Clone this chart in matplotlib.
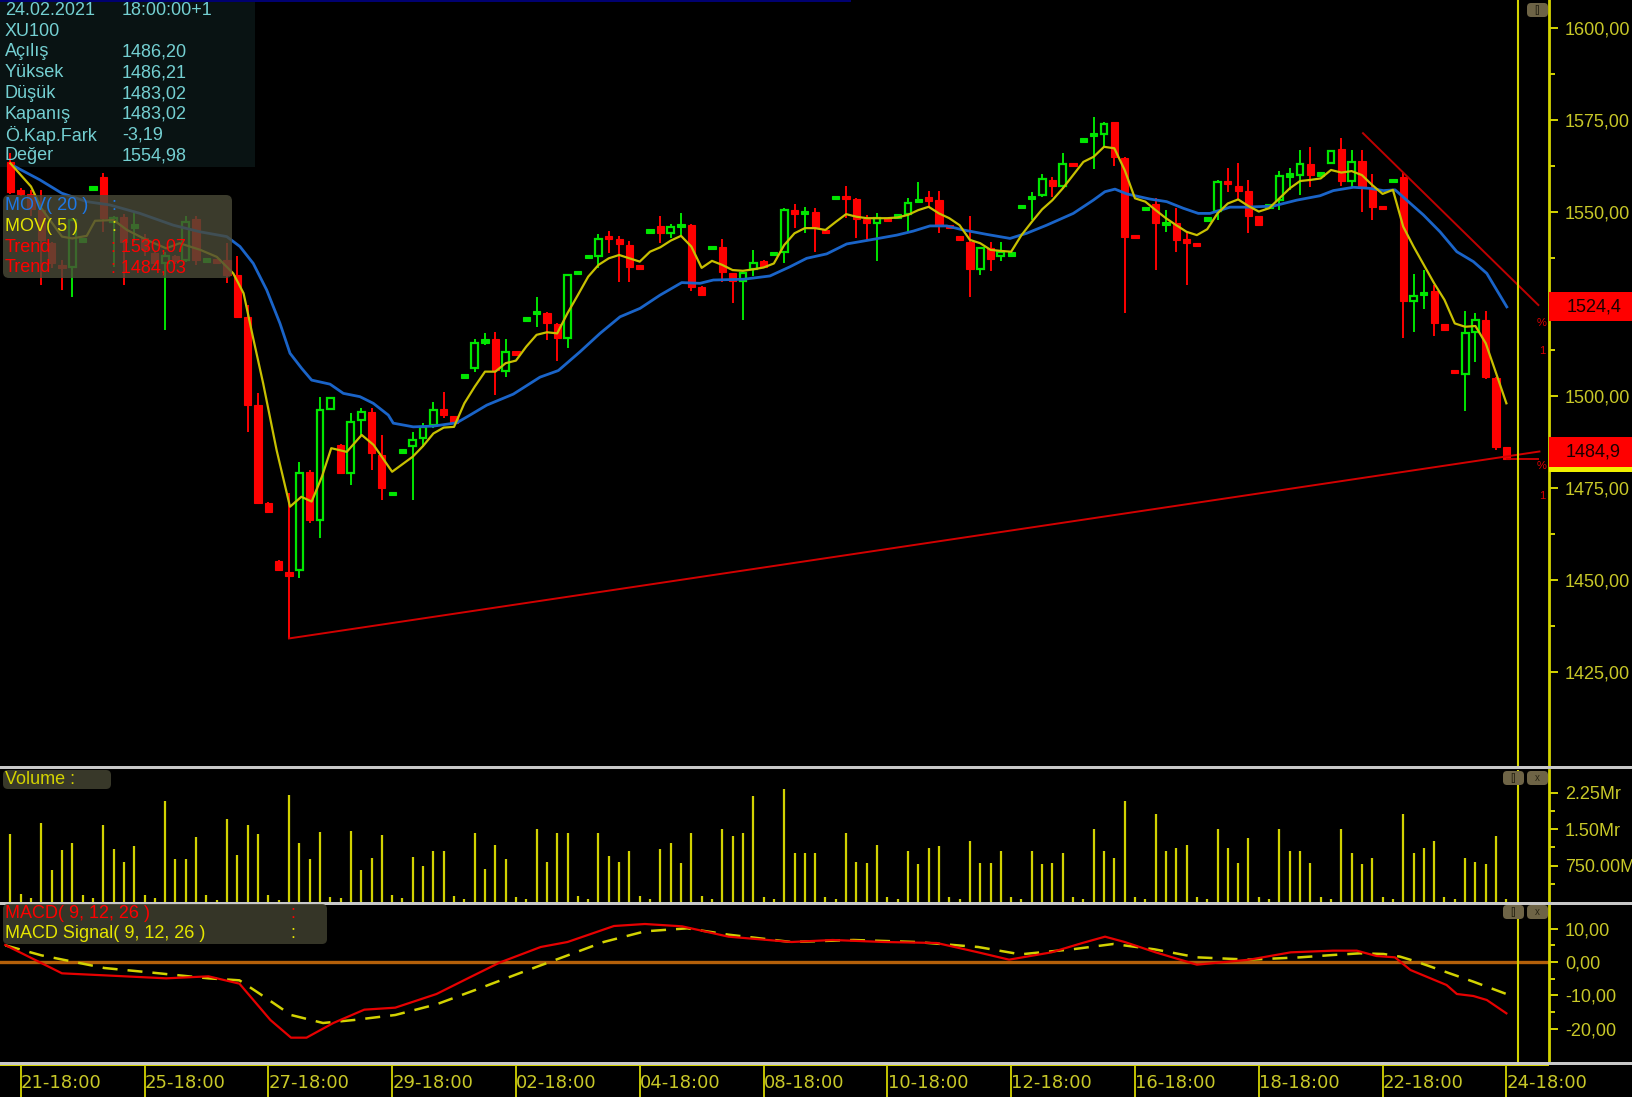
import matplotlib
matplotlib.use("Agg")
import matplotlib.pyplot as plt
import matplotlib.transforms as mtransforms
from matplotlib.patches import Rectangle, FancyBboxPatch

plt.rcParams['font.family'] = ['Liberation Sans', 'DejaVu Sans']

W, H = 1632, 1097

# XU100 hourly bars (index 0 = first bar on screen)
opens = [1563.7, 1556.0, 1555.0, 1550.6, 1541.7, 1535.5, 1535.2, 1542.3, 1556.4, 1559.7,
         1547.5, 1548.8, 1546.0, 1543.0, 1539.0, 1536.2, 1538.0, 1537.0, 1548.2, 1536.8,
         1537.0, 1537.0, 1533.0, 1521.6, 1497.6, 1471.1, 1455.3, 1452.3, 1452.8, 1479.5,
         1466.4, 1496.5, 1486.8, 1479.1, 1493.6, 1495.8, 1484.0, 1473.5, 1485.0, 1486.5,
         1488.6, 1492.2, 1496.5, 1494.6, 1505.3, 1507.6, 1514.6, 1515.5, 1506.9, 1511.9,
         1520.8, 1522.6, 1522.6, 1519.6, 1515.8, 1533.4, 1537.8, 1538.2, 1543.2, 1542.7,
         1541.1, 1535.3, 1544.8, 1546.4, 1544.3, 1546.2, 1546.6, 1529.8, 1540.3, 1540.7,
         1533.4, 1531.4, 1534.5, 1536.8, 1538.7, 1539.3, 1550.6, 1549.7, 1550.2, 1545.0,
         1553.8, 1554.5, 1553.5, 1548.1, 1547.2, 1548.2, 1548.8, 1549.5, 1552.8, 1553.8,
         1553.3, 1546.2, 1543.2, 1542.0, 1534.5, 1540.4, 1538.0, 1538.5, 1551.3, 1553.6,
         1554.7, 1558.8, 1557.2, 1563.2, 1569.5, 1571.0, 1571.2, 1574.5, 1564.8, 1543.6,
         1550.8, 1552.3, 1546.8, 1547.0, 1542.8, 1541.4, 1548.0, 1550.4, 1558.3, 1557.1,
         1555.9, 1549.0, 1551.6, 1553.3, 1560.0, 1560.1, 1563.0, 1560.3, 1563.3, 1567.2,
         1558.5, 1563.9, 1556.7, 1551.4, 1558.4, 1559.5, 1525.9, 1527.8, 1528.6, 1519.6,
         1506.8, 1506.0, 1517.6, 1520.7, 1505.1, 1486.2]
highs = [1566.0, 1556.5, 1556.0, 1556.0, 1542.0, 1537.0, 1548.5, 1543.0, 1557.0, 1560.6,
         1549.0, 1549.6, 1550.2, 1544.0, 1539.5, 1539.3, 1538.5, 1549.0, 1549.0, 1537.3,
         1537.1, 1541.6, 1538.0, 1524.8, 1500.9, 1471.2, 1455.4, 1473.6, 1482.2, 1480.0,
         1499.9, 1499.6, 1487.0, 1495.4, 1496.7, 1496.7, 1489.5, 1474.0, 1485.4, 1490.4,
         1492.7, 1498.5, 1501.2, 1494.7, 1505.8, 1515.7, 1517.1, 1517.6, 1515.5, 1512.0,
         1521.3, 1526.9, 1523.0, 1519.8, 1533.2, 1533.9, 1538.2, 1544.1, 1544.9, 1543.6,
         1542.3, 1535.4, 1545.2, 1549.0, 1546.7, 1549.7, 1546.7, 1530.0, 1540.8, 1542.7,
         1533.5, 1533.5, 1539.8, 1537.0, 1539.1, 1551.1, 1552.3, 1551.4, 1551.1, 1545.1,
         1554.3, 1557.1, 1553.8, 1549.3, 1549.7, 1548.3, 1549.3, 1553.8, 1558.3, 1555.9,
         1555.9, 1546.3, 1543.3, 1549.0, 1540.5, 1542.0, 1542.0, 1538.9, 1551.8, 1555.6,
         1560.4, 1559.5, 1566.0, 1563.3, 1569.9, 1575.8, 1574.6, 1574.6, 1565.1, 1543.7,
         1551.2, 1553.8, 1550.6, 1551.1, 1544.7, 1541.5, 1548.4, 1558.8, 1562.0, 1563.3,
         1558.8, 1549.1, 1552.0, 1561.3, 1562.0, 1566.9, 1567.7, 1560.7, 1566.8, 1570.1,
         1566.9, 1566.9, 1560.4, 1551.5, 1558.8, 1560.6, 1533.2, 1534.3, 1530.2, 1519.7,
         1506.9, 1523.3, 1522.6, 1523.3, 1505.2, 1486.21]
lows = [1555.0, 1554.5, 1549.0, 1530.2, 1535.0, 1529.0, 1527.0, 1542.0, 1556.3, 1544.7,
        1535.2, 1530.2, 1542.0, 1538.0, 1535.5, 1518.0, 1536.0, 1536.5, 1535.7, 1536.7,
        1536.5, 1530.8, 1521.2, 1490.4, 1470.9, 1468.5, 1452.6, 1434.2, 1450.5, 1465.5,
        1461.4, 1496.4, 1479.0, 1475.9, 1489.5, 1480.0, 1471.8, 1473.4, 1484.9, 1471.8,
        1486.3, 1491.3, 1494.0, 1492.7, 1505.2, 1506.5, 1513.9, 1500.3, 1505.3, 1511.5,
        1520.7, 1518.7, 1515.3, 1509.7, 1513.0, 1533.2, 1537.7, 1534.8, 1538.9, 1531.1,
        1531.1, 1534.9, 1544.7, 1541.7, 1542.9, 1543.8, 1528.6, 1527.4, 1540.2, 1531.1,
        1525.3, 1520.7, 1532.7, 1535.0, 1538.6, 1536.1, 1545.8, 1544.3, 1539.3, 1544.6,
        1553.7, 1548.4, 1542.9, 1542.2, 1536.8, 1547.8, 1548.7, 1544.3, 1552.6, 1551.1,
        1544.3, 1545.8, 1542.8, 1527.0, 1533.0, 1534.0, 1536.8, 1538.4, 1551.2, 1547.9,
        1554.2, 1554.2, 1556.2, 1562.8, 1569.4, 1561.7, 1567.8, 1562.6, 1522.6, 1543.1,
        1550.7, 1534.3, 1544.7, 1539.3, 1530.2, 1541.0, 1547.9, 1547.9, 1555.6, 1553.3,
        1544.5, 1546.4, 1551.5, 1550.6, 1556.0, 1554.7, 1556.8, 1560.2, 1563.2, 1557.1,
        1557.0, 1550.2, 1547.9, 1551.0, 1558.3, 1515.8, 1517.5, 1523.6, 1516.4, 1517.9,
        1506.4, 1496.1, 1509.4, 1504.6, 1485.5, 1483.02]
closes = [1555.6, 1555.0, 1551.0, 1542.5, 1536.2, 1535.0, 1547.9, 1542.7, 1556.8, 1548.4,
          1548.5, 1542.0, 1546.5, 1540.0, 1536.2, 1538.0, 1536.8, 1547.4, 1537.0, 1537.2,
          1536.6, 1533.0, 1521.6, 1497.6, 1471.1, 1468.6, 1452.8, 1451.2, 1479.2, 1466.4,
          1496.3, 1499.5, 1479.1, 1493.1, 1495.8, 1484.5, 1475.0, 1473.8, 1485.3, 1488.1,
          1491.7, 1496.3, 1494.9, 1492.8, 1505.7, 1514.6, 1515.5, 1507.1, 1512.1, 1511.6,
          1521.2, 1523.0, 1519.8, 1515.8, 1533.0, 1533.8, 1538.1, 1542.7, 1543.0, 1541.4,
          1535.2, 1535.0, 1545.1, 1544.3, 1545.9, 1546.5, 1529.6, 1527.5, 1540.7, 1533.8,
          1531.4, 1533.4, 1536.3, 1535.2, 1539.0, 1550.7, 1549.5, 1550.1, 1545.6, 1544.7,
          1554.2, 1553.5, 1548.2, 1547.2, 1548.4, 1547.9, 1549.2, 1552.4, 1553.7, 1553.5,
          1546.3, 1545.9, 1542.9, 1534.5, 1540.4, 1537.2, 1539.3, 1538.8, 1551.7, 1554.5,
          1559.0, 1557.2, 1563.1, 1562.9, 1569.8, 1571.4, 1574.0, 1564.9, 1543.4, 1543.2,
          1551.1, 1547.0, 1547.2, 1542.5, 1541.7, 1541.1, 1548.3, 1558.3, 1558.0, 1555.9,
          1549.0, 1546.5, 1551.9, 1559.9, 1560.3, 1563.0, 1560.1, 1560.6, 1566.7, 1558.5,
          1563.8, 1556.8, 1551.5, 1551.1, 1558.7, 1525.9, 1527.3, 1528.0, 1519.8, 1518.0,
          1506.5, 1517.1, 1520.7, 1505.2, 1486.3, 1483.02]

# volume in millions TL
volumes = [1411, 172, 76, 1632, 667, 1068, 1226, 138, 76, 1591,
           1101, 820, 1157, 138, 76, 2087, 882, 882, 1343, 138,
           41, 1715, 971, 1591, 1411, 138, 41, 2211, 1226, 882,
           1446, 103, 76, 1467, 667, 915, 1384, 138, 76, 937,
           743, 1044, 1044, 120, 60, 1432, 681, 1174, 893, 100,
           60, 1496, 829, 1432, 1432, 120, 60, 1432, 959, 829,
           1044, 120, 60, 1100, 1217, 800, 1432, 120, 60, 1496,
           1366, 1432, 2183, 100, 60, 2333, 1001, 1001, 1001, 100,
           60, 1432, 829, 800, 1174, 100, 60, 1044, 786, 1108,
           1151, 100, 60, 1258, 800, 800, 1044, 100, 60, 1044,
           786, 800, 1001, 100, 60, 1496, 1044, 900, 2075, 100,
           60, 1817, 1044, 1108, 1174, 100, 60, 1496, 1108, 800,
           1324, 100, 60, 1496, 1044, 1044, 800, 100, 60, 1496,
           1001, 786, 900, 100, 60, 1817, 1001, 1108, 1258, 100,
           60, 900, 829, 786, 1366, 60]

# MOV(20) blue line, (bar position, value)
ma20_x = [0.45, 2.87, 4.97, 7.4, 9.65, 12.56, 15.79, 18.38, 20.97, 22.25, 23.54, 24.84,
          26.13, 27.1, 28.23, 29.2, 30.98, 32.27, 33.88, 35.17, 36.63, 37.11, 39.05, 41.0,
          43.26, 44.55, 46.17, 48.75, 51.33, 53.11, 55.21, 57.15, 59.09, 61.03, 62.97,
          65.07, 66.84, 68.13, 71.04, 73.62, 75.56, 77.18, 79.12, 81.06, 83.32, 85.91,
          87.52, 89.13, 90.75, 92.36, 94.63, 96.89, 98.5, 100.44, 103.02, 104.96, 106.09,
          107.06, 108.2, 110.45, 112.07, 113.68, 115.14, 116.27, 118.21, 119.83, 122.41,
          124.68, 126.94, 128.23, 130.17, 131.78, 133.07, 134.21, 135.34, 136.95, 138.57,
          140.19, 141.8, 143.1, 145.04]
ma20 = [1562.4, 1558.8, 1555.2, 1552.9, 1552.0, 1549.7, 1546.5, 1544.7, 1543.4, 1540.7,
        1536.1, 1528.9, 1519.8, 1511.7, 1507.6, 1504.4, 1503.3, 1500.8, 1499.9, 1498.1,
        1494.9, 1492.7, 1491.7, 1491.9, 1492.8, 1494.9, 1497.6, 1500.6, 1505.2, 1507.0,
        1512.1, 1517.1, 1521.6, 1523.9, 1527.5, 1530.9, 1530.7, 1531.6, 1531.8, 1532.7,
        1535.2, 1537.5, 1538.7, 1541.4, 1542.5, 1543.8, 1544.9, 1546.3, 1546.3, 1545.2,
        1544.0, 1542.9, 1544.3, 1546.5, 1549.7, 1553.3, 1555.6, 1556.3, 1555.0, 1553.6,
        1552.9, 1551.1, 1549.7, 1549.7, 1551.4, 1551.4, 1551.7, 1553.3, 1554.5, 1555.9,
        1556.8, 1556.5, 1555.9, 1556.1, 1553.3, 1549.3, 1544.7, 1539.3, 1536.6, 1533.4,
        1524.3]

# MOV(5) yellow line
ma5_x = [0, 2, 3, 5, 6, 7.4, 8.2, 10, 11.3, 13.2, 15.1, 16.4, 18.4, 20, 21.6, 22.6, 23.5,
         24.5, 25.8, 27.1, 28.2, 29.2, 30.2, 31.1, 32.6, 34.05, 35.2, 37] + list(range(39, 146))
ma5 = [1563.3, 1557.0, 1551.1, 1543.4, 1542.9, 1543.6, 1547.7, 1547.9, 1545.2, 1542.5,
       1540.2, 1541.6, 1539.8, 1537.9, 1533.4, 1528.0, 1516.2, 1503.5, 1485.4, 1470.0,
       1472.7, 1471.4, 1478.2, 1485.9, 1484.9, 1489.5, 1486.8, 1479.5,
       1483.6, 1486.5, 1489.9, 1491.5, 1491.7, 1498.1, 1502.6, 1506.7, 1506.7, 1509.0,
       1509.7, 1513.5, 1516.7, 1517.4, 1517.1, 1522.6, 1527.5, 1532.5, 1535.7, 1537.5,
       1538.4, 1537.5, 1536.6, 1539.3, 1540.5, 1542.3, 1543.6, 1540.7, 1534.9, 1536.8,
       1535.7, 1534.3, 1534.1, 1534.5, 1535.0, 1536.1, 1541.1, 1544.3, 1545.7, 1545.7,
       1545.2, 1547.4, 1549.5, 1548.8, 1548.4, 1548.4, 1548.4, 1548.6, 1549.3, 1550.6,
       1551.5, 1549.7, 1548.4, 1546.5, 1542.5, 1541.6, 1539.8, 1539.5, 1539.3, 1543.8,
       1547.4, 1550.8, 1553.3, 1556.5, 1560.1, 1563.7, 1565.1, 1567.8, 1567.4, 1561.5,
       1553.8, 1552.9, 1550.6, 1548.4, 1546.5, 1544.7, 1543.8, 1545.4, 1549.7, 1552.4,
       1553.5, 1551.7, 1550.2, 1551.1, 1553.8, 1556.5, 1558.5, 1558.8, 1559.2, 1561.5,
       1560.8, 1561.2, 1560.1, 1557.4, 1555.0, 1556.1, 1546.1, 1540.7, 1535.7, 1530.7,
       1526.2, 1519.8, 1518.9, 1519.1, 1514.4, 1506.3, 1498.1]

# MACD(9,12,26) and its signal
macd_x = [-0.5, 5.0, 9.1, 15.1, 19.2, 22.2, 25.2, 27.2, 28.7, 31.3, 34.3, 37.3, 41.3,
          44.4, 47.4, 51.4, 54.0, 58.5, 61.5, 65.1, 69.6, 75.7, 79.7, 84.7, 89.8, 93.8,
          96.8, 100.9, 103.9, 106.1, 108.0, 111.0, 115.0, 117.0, 120.1, 124.1, 128.2,
          130.5, 132.4, 134.2, 135.7, 139.2, 140.2, 141.8, 143.1, 145.0]
macd = [5.1, -3.4, -4.0, -4.9, -4.3, -6.5, -17.4, -22.7, -22.7, -18.3, -14.3, -13.7, -9.6,
        -4.8, -0.2, 4.5, 6.0, 10.8, 11.4, 10.7, 7.6, 6.0, 6.6, 6.0, 5.7, 2.9,
        0.7, 2.9, 5.7, 7.6, 6.0, 2.9, -0.8, -0.2, 0.7, 2.9, 3.4,
        3.4, 1.8, 1.4, -2.4, -6.9, -9.6, -10.2, -11.4, -15.4]
signal_x = [-0.5, 3.0, 9.1, 14.1, 19.2, 22.2, 24.2, 27.2, 30.3, 33.3, 37.3, 41.3, 45.4,
            49.4, 53.5, 57.5, 61.5, 65.6, 69.6, 75.7, 81.7, 87.8, 93.8, 97.9, 102.9,
            106.9, 110.9, 115.0, 120.1, 125.0, 128.2, 130.8, 133.1, 134.7, 136.3, 139.5,
            141.8, 145.0]
signal = [5.0, 2.0, -1.8, -3.3, -4.9, -5.5, -9.6, -15.9, -18.3, -17.4, -15.9, -12.7, -8.0,
          -3.3, 1.4, 6.0, 9.2, 10.1, 8.2, 6.0, 6.6, 6.0, 4.5, 2.3, 3.8,
          5.4, 3.8, 1.4, 0.7, 1.4, 2.1, 2.6, 2.4, 1.6, 0.1, -3.4,
          -5.9, -9.6]

# drawn trend lines (bar position, value)
trend_up_x, trend_up = [27, 148.2], [1434.2, 1485.0]
trend_dn_x, trend_dn = [131.1, 148.1], [1571.5, 1524.8]
axis_marks = [1524.4, 1484.9]
cursor_x = 146.1

date_ticks = [1, 13, 25, 37, 49, 61, 73, 85, 97, 109, 121, 133, 145]
date_labels = ['21-18:00', '25-18:00', '27-18:00', '29-18:00', '02-18:00', '04-18:00',
               '08-18:00', '10-18:00', '12-18:00', '16-18:00', '18-18:00', '22-18:00',
               '24-18:00']
price_ticks = [1425, 1450, 1475, 1500, 1525, 1550, 1575, 1600]
vol_ticks = [750, 1500, 2250]
vol_labels = ['750.00M', '1.50Mr', '2.25Mr']
macd_ticks = [-20, -10, 0, 10]

info_keys = ['24.02.2021', 'XU100', 'Açılış', 'Yüksek', 'Düşük', 'Kapanış', 'Ö.Kap.Fark', 'Değer']
info_vals = ['18:00:00+1', '', '1486,20', '1486,21', '1483,02', '1483,02', '-3,19', '1554,98']

YEL = '#d4d400'
LAB = '#c8c828'
GRN = '#00e600'
RED = '#ff0000'
PIX = mtransforms.IdentityTransform()

fig = plt.figure(figsize=(W / 100, H / 100), dpi=100, facecolor='black')


def frame(x0, y0, x1, y1):
    return [x0 / W, 1 - y1 / H, (x1 - x0) / W, (y1 - y0) / H]


def px_box(x0, y0, x1, y1, color, alpha=1.0, r=0, z=1, host=None):
    style = f"round,pad=0,rounding_size={r}" if r else "square,pad=0"
    p = FancyBboxPatch((x0, H - y1), x1 - x0, y1 - y0, boxstyle=style, transform=PIX,
                       facecolor=color, edgecolor='none', alpha=alpha, zorder=z)
    (host or fig).add_artist(p)


def px_text(x, y, s, color, size=13, **kw):
    return fig.text(x / W, 1 - y / H, s, color=color, fontsize=size, va='center', **kw)


def style_axis(a, ticks, labels, minor):
    a.set_facecolor('black')
    for s in ['left', 'top', 'bottom']:
        a.spines[s].set_visible(False)
    a.spines['right'].set_color(YEL)
    a.spines['right'].set_linewidth(2)
    a.yaxis.tick_right()
    a.set_yticks(ticks)
    a.set_yticklabels(labels)
    a.set_yticks(minor, minor=True)
    a.tick_params(axis='y', which='major', length=6.5, width=1.4, colors=YEL,
                  labelcolor=LAB, labelsize=13, pad=5)
    a.tick_params(axis='y', which='minor', length=4.3, width=1.4, colors=YEL)
    a.set_xticks([])
    a.set_xlim(-1.008, 149.13)


def comma(v):
    return f'{v:.2f}'.replace('.', ',')


# ---- price panel ----
ax = fig.add_axes(frame(0, 0, 1549, 766))
# the 1525 label sits under the red trend-value box, so it is left blank
style_axis(ax, price_ticks,
           ['' if abs(v - axis_marks[0]) < 4 else comma(v) for v in price_ticks],
           [t + 12.5 for t in price_ticks])
ax.set_ylim(1399.54, 1607.69)

px_box(0, 0, 255, 167, '#0b1616', alpha=0.9, z=0.5, host=ax)

for i, (o, h, l, c) in enumerate(zip(opens, highs, lows, closes)):
    up = c >= o
    col = GRN if up else RED
    ax.vlines(i, l, h, color=col, lw=1.4, zorder=2)
    lo, hgt = min(o, c), abs(c - o)
    if hgt < 1.0:
        ax.add_patch(Rectangle((i - 0.35, (o + c) / 2 - 0.45), 0.7, 0.9,
                               facecolor=col, edgecolor=col, lw=0.8, zorder=3))
    elif up:
        ax.add_patch(Rectangle((i - 0.33, lo), 0.66, hgt, facecolor='black',
                               edgecolor=col, lw=1.6, zorder=3))
    else:
        ax.add_patch(Rectangle((i - 0.35, lo), 0.7, hgt, facecolor=col,
                               edgecolor=col, lw=0.8, zorder=3))

ax.plot(ma20_x, ma20, color='#1a64c8', lw=2.0, zorder=4)
ax.plot(ma5_x, ma5, color='#c8c000', lw=1.6, zorder=4)
ax.plot(trend_up_x, trend_up, color='#d20000', lw=1.4, zorder=5)
ax.plot(trend_dn_x, trend_dn, color='#be0000', lw=1.4, zorder=5)
ax.hlines(closes[-1], len(closes) - 1, trend_up_x[-1], color='#d20000', lw=1.3, zorder=5)
ax.axvline(cursor_x, color=YEL, lw=1.5, zorder=6)

blend = mtransforms.blended_transform_factory(ax.transAxes, ax.transData)
right = W / 1549
for m in axis_marks:
    ax.add_patch(Rectangle((1.0, m - 4.05), right - 1.0, 8.1, transform=blend,
                           facecolor=RED, edgecolor='none', clip_on=False, zorder=7))
    ax.text((1.0 + right) / 2 + 0.002, m, f'{m:.1f}'.replace('.', ','), transform=blend,
            ha='center', va='center', color='#1a0000', fontsize=13, zorder=8)
ax.add_patch(Rectangle((1.0, axis_marks[1] - 5.5), right - 1.0, 1.3, transform=blend,
                       facecolor='#f0f000', edgecolor='none', clip_on=False, zorder=7))
for yv, s in [(1520.0, '%'), (1512.4, '1'), (1481.0, '%'), (1472.8, '1')]:
    ax.text(0.9955, yv, s, transform=blend, ha='center', va='center', color='#e00000',
            fontsize=8, zorder=8)

# ---- volume panel ----
axv = fig.add_axes(frame(0, 770, 1549, 902))
style_axis(axv, vol_ticks, vol_labels, [375, 1125, 1875])
axv.set_ylim(0, 2723)
axv.vlines(range(len(volumes)), 0, volumes, color='#d2d200', lw=1.6)
axv.axvline(cursor_x, color=YEL, lw=1.5)

# ---- MACD panel ----
axm = fig.add_axes(frame(0, 905, 1549, 1063))
style_axis(axm, macd_ticks, [comma(v) for v in macd_ticks], [-15, -5, 5])
axm.set_ylim(-30.3, 17.1)
axm.axhline(0, color='#b4600a', lw=2.4, zorder=1)
axm.plot(macd_x, macd, color='#e60000', lw=1.6, zorder=3)
axm.plot(signal_x, signal, color='#d2d200', lw=1.8, dashes=(6, 4), zorder=2)
axm.axvline(cursor_x, color=YEL, lw=1.5)

# ---- date strip ----
axd = fig.add_axes(frame(0, 1066, 1549, 1097))
axd.set_facecolor('black')
axd.axis('off')
axd.set_xlim(-1.008, 149.13)
axd.set_ylim(0, 1)
for t, s in zip(date_ticks, date_labels):
    axd.axvline(t, color=YEL, lw=1.3)
    axd.text(t + 0.02, 0.45, s, color=LAB, fontsize=13, family='DejaVu Sans',
             ha='left', va='center', clip_on=False)

# panel separators
for y0 in (766, 902, 1062):
    fig.add_artist(Rectangle((0, 1 - (y0 + 3) / H), 1, 3 / H, transform=fig.transFigure,
                             facecolor='#c8c8c8', edgecolor='none'))
fig.add_artist(Rectangle((0, 1 - 1066 / H), 1549 / W, 1.2 / H, transform=fig.transFigure,
                         facecolor=YEL, edgecolor='none'))
fig.add_artist(Rectangle((0, 1 - 2 / H), 851 / W, 2 / H, transform=fig.transFigure,
                         facecolor='#000070', edgecolor='none'))

# info block
for k, (key, val) in enumerate(zip(info_keys, info_vals)):
    y = 10.4 + k * 20.8
    px_text(5, y, key, '#74d0d2')
    px_text(122, y, val, '#74d0d2')

# indicator legend
px_box(3, 195, 232, 278, '#4a4a38', alpha=0.8, r=6)
legend_rows = [('MOV( 20 )', ':', '#1e78e6'), ('MOV( 5 )', ':', '#e6e600'),
               ('Trend', ': 1530,07', RED), ('Trend', ': 1484,03', RED)]
for k, (name, val, col) in enumerate(legend_rows):
    y = 205.5 + k * 20.8
    px_text(5, y, name, col)
    px_text(111, y, val, col)

px_box(3, 770, 111, 789, '#3c3c2c', alpha=0.95, r=5)
px_text(5, 779.5, 'Volume :', '#d2d200')

px_box(3, 904, 327, 944, '#3c3c2c', alpha=0.9, r=5)
px_text(5, 913.5, 'MACD( 9, 12, 26 )', RED)
px_text(290, 913.5, ':', RED)
px_text(5, 934, 'MACD Signal( 9, 12, 26 )', '#e6e600')
px_text(290, 934, ':', '#e6e600')

# panel buttons
for x0, y0, s in [(1527, 3, '[]'), (1503, 771, '[]'), (1527, 771, 'x'),
                  (1503, 905, '[]'), (1527, 905, 'x')]:
    px_box(x0, y0, x0 + 21, y0 + 14, '#6e6446', r=4)
    px_text(x0 + 10.5, y0 + 7, s, '#2a2616', size=7, ha='center')

fig.savefig('out.png', dpi=100, facecolor='black')
